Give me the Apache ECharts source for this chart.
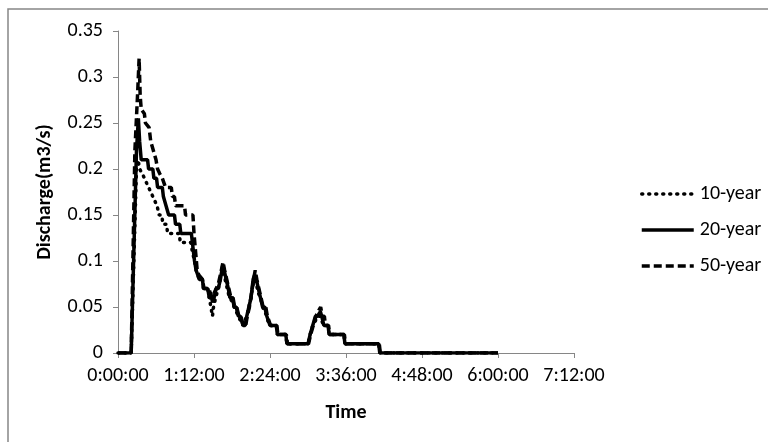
<!DOCTYPE html>
<html>
<head>
<meta charset="utf-8">
<title>Discharge</title>
<script src="https://cdn.jsdelivr.net/npm/echarts@6/dist/echarts.min.js"></script>
<style>
  body { margin: 0; background: #fff; }
  #chart { width: 768px; height: 442px; }
</style>
</head>
<body>
<div id="chart"></div>
<script type="text/javascript">
// time in minutes, discharge in m3/s
var flow10 = [[0,0],[12.5,0],[17.5,0.2],[19,0.21],[20.5,0.2],[23,0.195],[25,0.19],[27,0.185],[29,0.18],[31,0.175],[33,0.17],[35,0.165],[37,0.16],[39,0.15],[41.5,0.15],[42.5,0.14],[46,0.14],[47,0.13],[58,0.13],[59,0.12],[69,0.12],[70.5,0.11],[72.5,0.10],[74,0.09],[75.5,0.085],[77,0.08],[80,0.08],[81,0.07],[85,0.07],[86.5,0.06],[88,0.05],[89.5,0.04],[90.5,0.05],[92.5,0.06],[95,0.07],[97,0.08],[99,0.09],[100.5,0.085],[102.5,0.075],[104.5,0.065],[106,0.06],[108.5,0.055],[110,0.05],[112,0.045],[114,0.04],[116,0.035],[118.4,0.03],[120,0.03],[122,0.04],[124,0.05],[126,0.06],[128,0.075],[129.5,0.08],[131,0.075],[133,0.065],[135,0.06],[137,0.05],[139,0.045],[141,0.04],[142,0.035],[144,0.03],[150,0.03],[151,0.02],[159,0.02],[160,0.01],[180,0.01],[182,0.02],[184.5,0.03],[187,0.035],[189,0.04],[191.5,0.04],[193,0.035],[195,0.03],[199,0.03],[200,0.02],[214,0.02],[215,0.01],[247,0.01],[248,0],[360,0]];

var flow20 = [[0,0],[12.5,0],[17.5,0.22],[19.3,0.255],[20.5,0.23],[22,0.21],[28,0.21],[29,0.20],[33,0.20],[34,0.19],[36.5,0.19],[37.5,0.18],[42,0.18],[43,0.17],[44.5,0.17],[45.5,0.16],[47,0.16],[48,0.15],[53.5,0.15],[54.5,0.14],[58.5,0.14],[59.5,0.13],[69.5,0.13],[70.5,0.12],[72.5,0.10],[74,0.09],[75.5,0.085],[77,0.08],[80,0.08],[81,0.07],[85,0.07],[86.5,0.06],[88.5,0.06],[89.8,0.055],[91,0.06],[93,0.07],[95,0.07],[97,0.08],[99.2,0.095],[100.5,0.09],[102.5,0.08],[104.5,0.07],[106,0.06],[108.5,0.06],[110,0.05],[112,0.05],[114,0.04],[116,0.04],[118.4,0.03],[120.5,0.03],[122,0.04],[124,0.05],[126,0.06],[128,0.08],[129.5,0.085],[131,0.08],[133,0.07],[135,0.06],[137,0.05],[139,0.05],[141,0.04],[142,0.04],[144,0.03],[150,0.03],[151,0.02],[159,0.02],[160,0.01],[180,0.01],[182,0.02],[184.5,0.03],[187,0.04],[189,0.04],[191.7,0.045],[193,0.04],[195,0.03],[199,0.03],[200,0.02],[214,0.02],[215,0.01],[247,0.01],[248,0],[360,0]];

var flow50 = [[0,0],[12.5,0],[16,0.22],[18.5,0.28],[20,0.32],[21,0.28],[22,0.265],[25,0.26],[26,0.25],[29.5,0.245],[31,0.23],[33.5,0.22],[36,0.21],[37.5,0.20],[39.5,0.195],[42,0.19],[45,0.18],[50.5,0.18],[51.5,0.17],[53.5,0.17],[54.5,0.16],[63,0.16],[64,0.15],[71,0.15],[72,0.13],[73.5,0.11],[75,0.09],[76.5,0.085],[80,0.08],[81.5,0.07],[86,0.07],[87.5,0.065],[89.5,0.06],[91,0.065],[93,0.07],[95,0.075],[97,0.085],[99.5,0.099],[101,0.09],[103,0.08],[105,0.07],[107,0.06],[109,0.06],[110.5,0.05],[112.5,0.05],[114.5,0.04],[116.5,0.04],[118.5,0.03],[121,0.03],[122.5,0.04],[124.5,0.05],[126.5,0.065],[128.5,0.08],[130,0.09],[131.5,0.08],[133.5,0.07],[135.5,0.06],[137.5,0.05],[140,0.05],[141.5,0.04],[143,0.04],[144.5,0.03],[150.5,0.03],[151.5,0.02],[159.5,0.02],[160.5,0.01],[180.5,0.01],[182.5,0.02],[185,0.03],[187.5,0.04],[189.5,0.045],[192,0.05],[193.5,0.04],[195.5,0.04],[196.5,0.03],[199.5,0.03],[200.5,0.02],[214.5,0.02],[215.5,0.01],[247.5,0.01],[248.5,0],[360,0]];

var seriesNames = ['10-year', '20-year', '50-year'];

var font = "'Carlito', 'Liberation Sans Narrow', 'Arial Narrow', sans-serif";
var axisGray = '#868686';

function hms(m) {
  var h = Math.floor(m / 60);
  var mm = m % 60;
  return h + ':' + (mm < 10 ? '0' : '') + mm + ':00';
}

var myChart = echarts.init(document.getElementById('chart'));

myChart.setOption({
  animation: false,
  backgroundColor: '#fff',
  textStyle: { fontFamily: font },
  graphic: [{
    type: 'rect',
    shape: { x: 8, y: 9, width: 800, height: 500 },
    style: { fill: 'none', stroke: axisGray, lineWidth: 1.5 },
    silent: true
  }],
  grid: { left: 118, right: 194, top: 31, bottom: 89 },
  legend: {
    orient: 'vertical',
    left: 635,
    top: 179,
    itemWidth: 52,
    itemHeight: 20,
    itemGap: 16,
    lineStyle: { width: 3.5 },
    itemStyle: { opacity: 0 },
    textStyle: { fontFamily: font, fontSize: 20, color: '#000', padding: [0, 0, 0, 1] },
    data: seriesNames
  },
  xAxis: {
    type: 'value',
    min: 0, max: 432, interval: 72,
    name: 'Time',
    nameLocation: 'middle',
    nameGap: 50,
    nameTextStyle: { fontFamily: font, fontSize: 20, fontWeight: 'bold', color: '#000' },
    axisLine: { lineStyle: { color: axisGray, width: 1 } },
    axisTick: { length: 5, lineStyle: { color: axisGray } },
    axisLabel: { margin: 13, fontSize: 20, color: '#000', formatter: hms },
    splitLine: { show: false }
  },
  yAxis: {
    type: 'value',
    min: 0, max: 0.35, interval: 0.05,
    name: 'Discharge(m3/s)',
    nameLocation: 'middle',
    nameGap: 63,
    nameTextStyle: { fontFamily: font, fontSize: 20, fontWeight: 'bold', color: '#000' },
    axisLine: { show: true, lineStyle: { color: axisGray, width: 1 } },
    axisTick: { show: true, length: 5, lineStyle: { color: axisGray } },
    axisLabel: { margin: 15, fontSize: 20, color: '#000' },
    splitLine: { show: false }
  },
  series: [
    {
      name: seriesNames[0], type: 'line', data: flow10, symbol: 'none',
      itemStyle: { color: '#000' },
      lineStyle: { color: '#000', width: 3.5, type: [1, 6], cap: 'round' }
    },
    {
      name: seriesNames[1], type: 'line', data: flow20, symbol: 'none',
      itemStyle: { color: '#000' },
      lineStyle: { color: '#000', width: 3.5, type: 'solid' }
    },
    {
      name: seriesNames[2], type: 'line', data: flow50, symbol: 'none',
      itemStyle: { color: '#000' },
      lineStyle: { color: '#000', width: 3.5, type: [8, 4] }
    }
  ]
});
</script>
</body>
</html>
